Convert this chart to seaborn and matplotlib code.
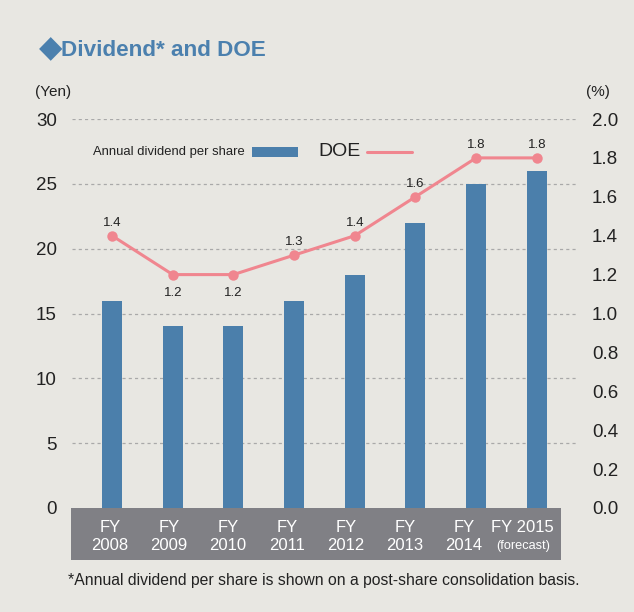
import matplotlib
matplotlib.use("Agg")
import matplotlib.pyplot as plt
import matplotlib.transforms as mtransforms
from matplotlib.patches import Rectangle
import seaborn as sns
import pandas as pd

years = ["2008", "2009", "2010", "2011", "2012", "2013", "2014", "2015"]
dividend = [16, 14, 14, 16, 18, 22, 25, 26]
doe = [1.4, 1.2, 1.2, 1.3, 1.4, 1.6, 1.8, 1.8]
doe_labels = ["1.4", "1.2", "1.2", "1.3", "1.4", "1.6", "1.8", "1.8"]
label_below = [False, True, True, False, False, False, False, False]
left_ticks = [0, 5, 10, 15, 20, 25, 30]
right_ticks = [0.0, 0.2, 0.4, 0.6, 0.8, 1.0, 1.2, 1.4, 1.6, 1.8, 2.0]

BG = "#e8e7e2"
BAR = "#4b7fab"
LINE = "#f0868f"
BAND = "#808085"
TXT = "#222222"
TITLE = "#4b80ae"

sns.set_theme(style="white")
plt.rcParams["font.family"] = ["Liberation Sans", "DejaVu Sans"]

df = pd.DataFrame({"year": years, "dividend": dividend, "doe": doe})
df["pos"] = range(len(years))

W, H = 634, 612
fig = plt.figure(figsize=(W / 100, H / 100), dpi=100, facecolor=BG)
ax = fig.add_axes([72 / W, (H - 508) / H, (578 - 72) / W, (508 - 119) / H])
ax.set_facecolor(BG)

sns.barplot(data=df, x="year", y="dividend", color=BAR, width=0.33,
            saturation=1, ax=ax, zorder=3, edgecolor="none", linewidth=0)
ax.set_xlim(-0.66, 7.68)
ax.set_ylim(0, 30)
ax.set_yticks(left_ticks)
ax.set_yticklabels([str(t) for t in left_ticks], fontsize=13.5, color=TXT)
ax.tick_params(axis="y", length=0, pad=11)
ax.set_xticks(range(len(years)))
ax.set_xticklabels([""] * len(years))
ax.tick_params(axis="x", length=0)
ax.set_xlabel("")
ax.set_ylabel("")
for s in ax.spines.values():
    s.set_visible(False)
for t in left_ticks[1:]:
    ax.axhline(t, color="#a9a9a9", lw=0.9, ls=(0, (2.5, 2.5)), zorder=1)

ax2 = ax.twinx()
ax2.set_ylim(0, 2.0)
sns.lineplot(data=df, x="pos", y="doe", color=LINE, lw=2.2, marker="o",
             markersize=7.5, markeredgewidth=0, ax=ax2, zorder=4)
ax2.set_xlim(-0.66, 7.68)
ax2.set_yticks(right_ticks)
ax2.set_yticklabels([f"{t:.1f}" for t in right_ticks], fontsize=13.5, color=TXT)
ax2.tick_params(axis="y", length=0, pad=10)
ax2.set_xlabel("")
ax2.set_ylabel("")
for s in ax2.spines.values():
    s.set_visible(False)

for i, (v, lab, below) in enumerate(zip(doe, doe_labels, label_below)):
    if below:
        ax2.annotate(lab, (i, v), xytext=(0, -9), textcoords="offset points",
                     ha="center", va="top", fontsize=9.5, color=TXT)
    else:
        ax2.annotate(lab, (i, v), xytext=(0, 5), textcoords="offset points",
                     ha="center", va="bottom", fontsize=9.5, color=TXT)

# x band (labels in the band are spaced slightly tighter than the bars)
trans = mtransforms.blended_transform_factory(ax.transData, fig.transFigure)
band = Rectangle((-0.675, (H - 560) / H), 7.4 - (-0.675), 52 / H,
                 transform=trans, facecolor=BAND, edgecolor="none",
                 clip_on=False, zorder=-1)
fig.patches.append(band)
for i, y in enumerate(years):
    lx = i * 0.972 - 0.033
    if i < len(years) - 1:
        fig.text(0, (H - 527) / H, "FY", transform=trans, ha="center", va="center",
                 color="white", fontsize=12).set_x(lx)
        fig.text(0, (H - 546) / H, y, transform=trans, ha="center", va="center",
                 color="white", fontsize=12).set_x(lx)
    else:
        fig.text(0, (H - 527) / H, "FY " + y, transform=trans, ha="center",
                 va="center", color="white", fontsize=12).set_x(lx)
        fig.text(0, (H - 546) / H, "(forecast)", transform=trans, ha="center",
                 va="center", color="white", fontsize=9.2).set_x(lx)

# titles and axis units
fig.text(39 / W, (H - 49) / H, "\u25c6", fontsize=22, color=TITLE,
         ha="left", va="center", family=["DejaVu Sans"])
fig.text(61 / W, (H - 50) / H, "Dividend* and DOE", fontsize=16.2,
         fontweight="bold", color=TITLE, ha="left", va="center")
fig.text(35 / W, (H - 92) / H, "(Yen)", fontsize=11, color=TXT, ha="left", va="center")
fig.text(586 / W, (H - 92) / H, "(%)", fontsize=11, color=TXT, ha="left", va="center")

# legend
fig.text(93 / W, (H - 152) / H, "Annual dividend per share", fontsize=9.4,
         color=TXT, ha="left", va="center")
fig.patches.append(Rectangle((252 / W, (H - 157) / H), 46 / W, 10 / H,
                             transform=fig.transFigure, facecolor=BAR,
                             edgecolor="none"))
fig.text(318 / W, (H - 152) / H, "DOE", fontsize=14, color=TXT, ha="left", va="center")
fig.lines.append(plt.Line2D([367 / W, 412 / W], [(H - 152) / H] * 2,
                            transform=fig.transFigure, color=LINE, lw=2.2))

# footnote
fig.text(68 / W, (H - 581) / H,
         "*Annual dividend per share is shown on a post-share consolidation basis.",
         fontsize=11.3, color=TXT, ha="left", va="center")

fig.savefig("out.png", dpi=100, facecolor=BG)
